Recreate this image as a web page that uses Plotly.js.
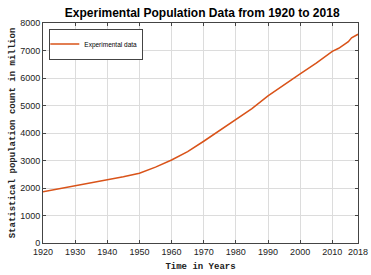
<!DOCTYPE html>
<html><head><meta charset="utf-8">
<script src="https://cdn.plot.ly/plotly-3.0.1.min.js"></script>
<style>html,body{margin:0;padding:0;background:#fff}#c{width:371px;height:275px}</style>
</head><body><div id="c"></div>
<script>
const years = [1920,1925,1930,1935,1940,1945,1950,1955,1960,1965,1970,1975,1980,1985,1990,1995,2000,2005,2009,2010,2012,2014,2015,2016,2017,2018];
const population = [1865,1970,2073,2180,2290,2410,2534,2760,3018,3320,3700,4090,4470,4890,5350,5760,6150,6540,6880,6970,7080,7230,7320,7460,7520,7590];
const xTicks = [1920,1930,1940,1950,1960,1970,1980,1990,2000,2010,2018];
const yTicks = [0,1000,2000,3000,4000,5000,6000,7000,8000];

const axisCommon = {
  showline:true, linecolor:'#444', linewidth:1, mirror:'ticks',
  ticks:'inside', ticklen:3, tickcolor:'#444',
  showgrid:true, gridcolor:'#dcdcdc', gridwidth:1, zeroline:false,
  tickfont:{family:'Arial, Liberation Sans', size:9, color:'#222'}
};
Plotly.newPlot('c', [{
  x: years, y: population, type:'scatter', mode:'lines',
  name:'Experimental data', line:{color:'#D95319', width:1.5}
}], {
  width:371, height:275,
  margin:{l:43, r:13, t:23, b:32},
  paper_bgcolor:'#fff', plot_bgcolor:'#fff',
  title:{text:'<b>Experimental Population Data from 1920 to 2018</b>', x:0.545, xanchor:'center', y:0.955, yanchor:'middle',
    font:{family:'Arial, Liberation Sans', size:12, color:'#000'}},
  xaxis: Object.assign({}, axisCommon, {range:[1920,2018], tickvals:xTicks,
    title:{text:'<b>Time in Years</b>', standoff:6, font:{family:'Liberation Mono, Courier New', size:9, color:'#222'}}}),
  yaxis: Object.assign({}, axisCommon, {range:[0,8000], tickvals:yTicks,
    title:{text:'<b>Statistical population count in million</b>', standoff:3, font:{family:'Liberation Mono, Courier New', size:9, color:'#222'}}}),
  showlegend:true,
  legend:{x:0.02, y:0.975, xanchor:'left', yanchor:'top', bgcolor:'#fff', bordercolor:'#444', borderwidth:1,
    font:{family:'Arial, Liberation Sans', size:6.5, color:'#000'}, itemwidth:30, tracegroupgap:0, indentation:-6}
}, {displayModeBar:false, staticPlot:true});
</script></body></html>
